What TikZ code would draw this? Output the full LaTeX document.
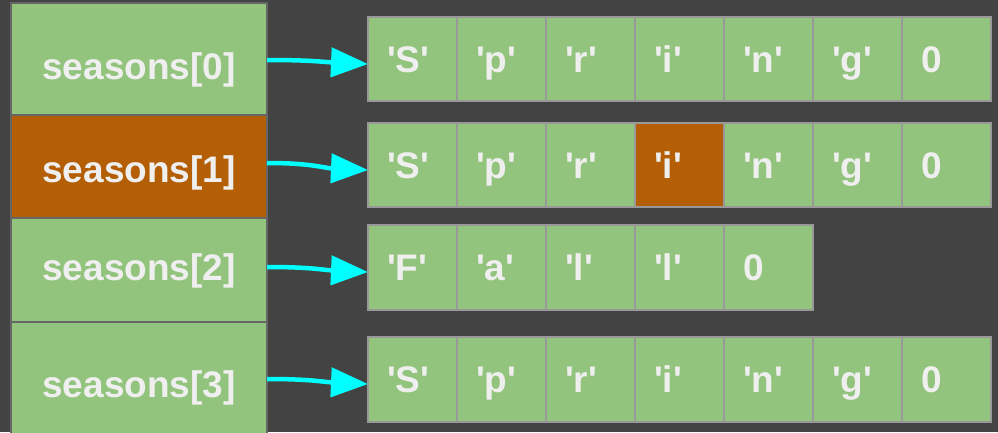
\documentclass[tikz,border=0pt]{standalone}
\usepackage{fontspec}
\setmainfont{Liberation Sans}
\usetikzlibrary{arrows.meta}
\definecolor{bg}{HTML}{434343}
\definecolor{cellgreen}{HTML}{93C47D}
\definecolor{hilite}{HTML}{B45F06}
\definecolor{txt}{HTML}{EFEFEF}
\definecolor{cellline}{HTML}{999999}
\definecolor{boxline}{HTML}{666666}
\definecolor{ptrcol}{HTML}{00FFFF}
\newcommand\chq[1]{\textquotesingle#1\textquotesingle}
\tikzset{
  font=\bfseries\fontsize{37}{40}\selectfont,
  ptrbox/.style={draw=boxline, line width=1.5pt, fill=cellgreen, inner sep=0pt, outer sep=0pt,
    minimum width=256pt},
  ptrtext/.style={text=txt, anchor=base, inner sep=0pt},
  cell/.style={draw=cellline, line width=2pt, fill=cellgreen, inner sep=0pt, outer sep=0pt,
    minimum width=89pt, minimum height=84.5pt, text=txt,
    text width=51pt, align=left, text height=26.4pt, text depth=0pt},
  hot/.style={fill=hilite},
  ptr/.style={draw=ptrcol, line width=4.5pt, -{Triangle[length=37pt,width=29pt]}}
}
\begin{document}
\begin{tikzpicture}[x=1pt, y=-1pt]
  \path[use as bounding box, fill=bg] (0,0) rectangle (998,432);
  \clip (0,0) rectangle (998,432);

  % pointer array on the left
  \node[ptrbox, minimum height=112pt] (s0) at (139,59) {};
  \node[ptrbox, minimum height=103pt, fill=hilite] (s1) at (139,166.5) {};
  \node[ptrbox, minimum height=103pt] (s2) at (139,270) {};
  \node[ptrbox, minimum height=118pt] (s3) at (139,381) {};
  \node[ptrtext] (t0) at (139,79) {seasons[0]};
  \node[ptrtext] (t1) at (139,182) {seasons[1]};
  \node[ptrtext] (t2) at (139,280) {seasons[2]};
  \node[ptrtext] (t3) at (139,397) {seasons[3]};

  % "Spring"
  \foreach \k/\ch in {0/S,1/p,2/r,3/i,4/n,5/g}
    \node[cell] (c0\k) at (412.5+89*\k,59) {\chq{\ch}};
  \node[cell] (c06) at (412.5+89*6,59) {0};

  % "Spring" with the modified character
  \foreach \k/\ch in {0/S,1/p,2/r,4/n,5/g}
    \node[cell] (c1\k) at (412.5+89*\k,165) {\chq{\ch}};
  \node[cell, hot] (c13) at (412.5+89*3,165) {\chq{i}};
  \node[cell] (c16) at (412.5+89*6,165) {0};

  % "Fall"
  \foreach \k/\ch in {0/F,1/a,2/l,3/l}
    \node[cell] (c2\k) at (412.5+89*\k,267.5) {\chq{\ch}};
  \node[cell] (c24) at (412.5+89*4,267.5) {0};

  % "Spring"
  \foreach \k/\ch in {0/S,1/p,2/r,3/i,4/n,5/g}
    \node[cell] (c3\k) at (412.5+89*\k,379.5) {\chq{\ch}};
  \node[cell] (c36) at (412.5+89*6,379.5) {0};

  % pointers
  \draw[ptr] ([yshift=-1pt]s0.east) .. controls +(45,0) and +(-45,-2) .. ([yshift=-5pt]c00.west);
  \draw[ptr] ([yshift=3.5pt]s1.east) .. controls +(45,0) and +(-45,-2) .. ([yshift=-5pt]c10.west);
  \draw[ptr] ([yshift=3pt]s2.east) .. controls +(45,0) and +(-45,-2) .. ([yshift=-4.5pt]c20.west);
  \draw[ptr] ([yshift=2pt]s3.east) .. controls +(45,0) and +(-45,-2) .. ([yshift=-4.5pt]c30.west);
\end{tikzpicture}
\end{document}
